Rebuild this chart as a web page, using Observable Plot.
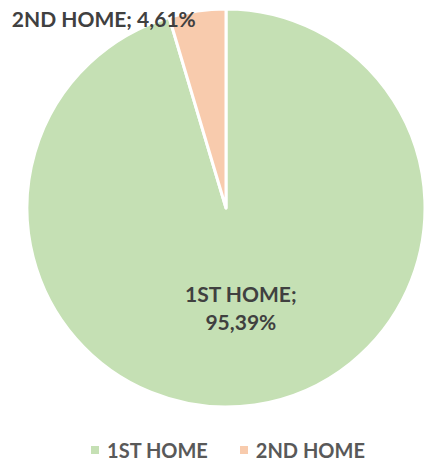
<!DOCTYPE html>
<html>
<head>
<meta charset="utf-8">
<script src="https://cdn.jsdelivr.net/npm/d3@7"></script>
<script src="https://cdn.jsdelivr.net/npm/@observablehq/plot@0.6"></script>
<style>
  html, body { margin: 0; padding: 0; background: #fff; }
  #chart { width: 424px; height: 462px; position: relative; overflow: hidden; }
  #chart svg { display: block; }
  .legend { display: flex; justify-content: center; align-items: center; height: 24px; padding-left: 32px; font-family: Lato, "Open Sans", sans-serif; font-weight: bold; font-size: 20px; line-height: 24px; color: #595959; }
  .legend .item { display: flex; align-items: center; margin: 0 16px; }
  .legend .sw { width: 8px; height: 8px; margin-right: 8px; display: inline-block; }
</style>
</head>
<body>
<div id="chart"></div>
<script>
const categories = ["1ST HOME", "2ND HOME"];
const shares = [95.39, 4.61];
const labels = ["95,39%", "4,61%"];
const colors = ["#C5E0B4", "#F8CBAD"];

const data = categories.map((c, i) => ({category: c, value: shares[i], label: labels[i], color: colors[i]}));
const arcs = d3.pie().sort(null).value(d => d.value)(data);

// label anchor points in unit coordinates
const labelData = arcs.map((a, i) => {
  const mid = (a.startAngle + a.endAngle) / 2;
  const inside = i === 0;
  const k = inside ? 0.5 : 1.0;
  return {
    x: Math.sin(mid) * k,
    y: Math.cos(mid) * k,
    text: inside ? `${a.data.category};\n${a.data.label}` : `${a.data.category}; ${a.data.label}`,
    inside
  };
});

const pieMark = (index, scales) => {
  const cx = scales.x(0), cy = scales.y(0);
  const r = scales.x(1) - scales.x(0);
  const g = d3.create("svg:g").attr("transform", `translate(${cx},${cy})`);
  const arc = d3.arc().innerRadius(0).outerRadius(r);
  g.selectAll("path").data(arcs).join("path")
    .attr("d", arc)
    .attr("fill", d => d.data.color)
    .attr("stroke", "#ffffff")
    .attr("stroke-width", 3)
    .attr("stroke-linejoin", "round");
  return g.node();
};

const plot = Plot.plot({
  width: 424,
  height: 438,
  margin: 0,
  x: {domain: [-1, 1], range: [27, 425], axis: null},
  y: {domain: [-1, 1], range: [407, 9], axis: null},
  style: {background: "transparent", overflow: "visible"},
  marks: [
    pieMark,
    Plot.text(labelData.filter(d => d.inside), {
      x: "x", y: "y", text: "text",
      fontSize: 21, fontWeight: "bold", fill: "#404040",
      fontFamily: "Lato, 'Open Sans', sans-serif", lineHeight: 1.35
    }),
    Plot.text(labelData.filter(d => !d.inside), {
      x: "x", y: "y", text: "text",
      textAnchor: "end", dx: -2, dy: 9,
      fontSize: 21, fontWeight: "bold", fill: "#404040",
      fontFamily: "Lato, 'Open Sans', sans-serif"
    })
  ]
});

const chart = document.getElementById("chart");
chart.appendChild(plot);

const legend = document.createElement("div");
legend.className = "legend";
data.forEach(d => {
  const item = document.createElement("div");
  item.className = "item";
  const sw = document.createElement("span");
  sw.className = "sw";
  sw.style.background = d.color;
  const t = document.createElement("span");
  t.textContent = d.category;
  item.appendChild(sw);
  item.appendChild(t);
  legend.appendChild(item);
});
chart.appendChild(legend);
</script>
</body>
</html>
